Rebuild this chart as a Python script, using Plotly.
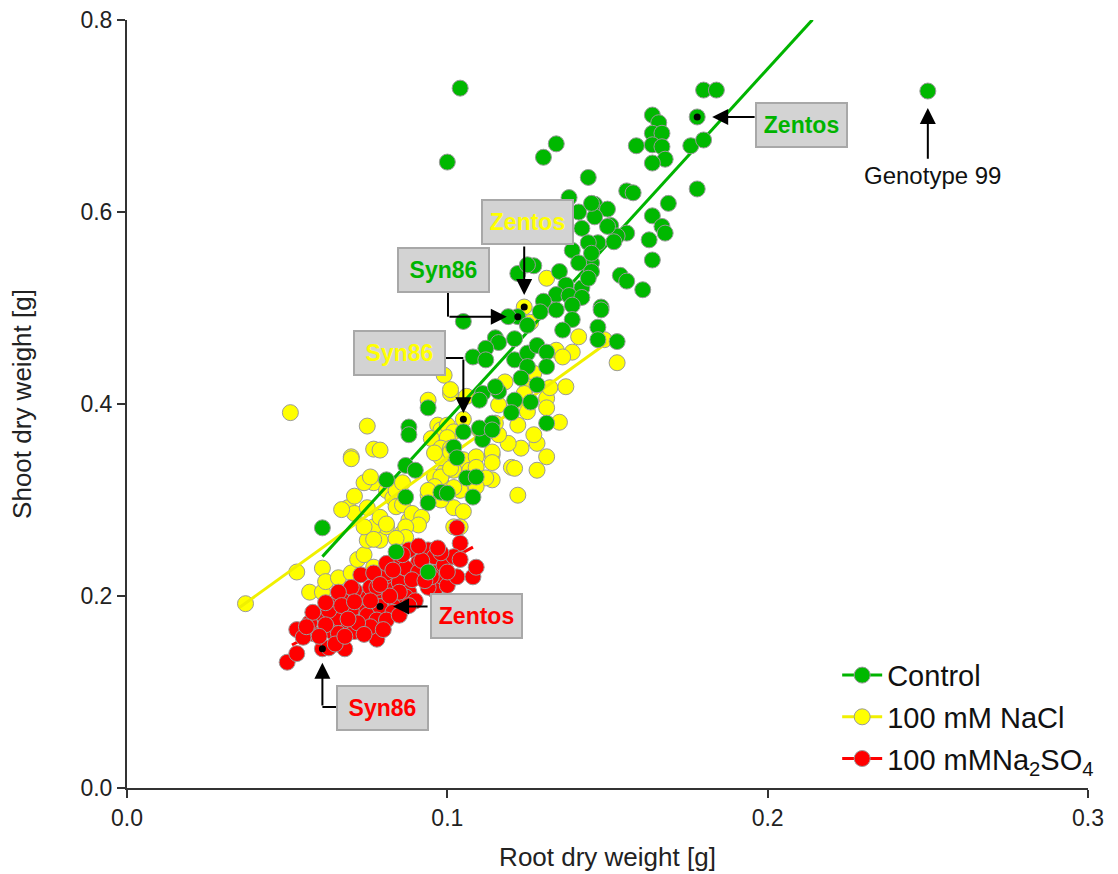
import plotly.graph_objects as go

# ---------------- data ----------------
control_x = [0.104,0.100,0.178,0.180,0.184,0.250,0.164,0.166,0.164,0.167,0.164,0.167,0.168,0.164,0.159,0.176,0.180,0.178,
             0.134,0.130,0.144,0.156,0.158,0.138,0.146,0.141,0.150,0.146,0.151,0.169,0.164,0.167,0.168,0.156,0.153,0.163,
             0.142,0.147,0.144,0.139,0.152,0.164,0.145,0.141,0.145,0.154,0.156,0.161,0.135,0.127,0.122,0.137,0.142,0.134,
             0.130,0.138,0.142,0.148,0.145,0.150,0.145,0.144,0.125,0.139,0.134,0.129,0.139,0.136,0.148,0.147,0.153,0.147,
             0.122,0.119,0.125,0.105,0.115,0.116,0.112,0.108,0.112,0.121,0.121,0.125,0.128,0.131,0.131,0.125,0.123,0.128,
             0.126,0.121,0.116,0.111,0.120,0.131,0.114,0.111,0.105,0.094,0.088,0.088,0.102,0.103,0.087,0.090,0.081,0.087,
             0.094,0.098,0.100,0.106,0.108,0.061,0.084,0.094,0.115,0.110,0.114,0.109,0.110]
control_y = [0.729,0.652,0.699,0.727,0.727,0.726,0.701,0.693,0.682,0.682,0.670,0.668,0.655,0.651,0.669,0.669,0.675,0.624,
             0.671,0.657,0.636,0.622,0.620,0.615,0.608,0.600,0.603,0.595,0.586,0.609,0.596,0.585,0.578,0.578,0.575,0.571,
             0.583,0.568,0.568,0.560,0.569,0.550,0.547,0.547,0.538,0.534,0.528,0.519,0.538,0.544,0.536,0.524,0.521,0.514,
             0.507,0.513,0.511,0.501,0.609,0.585,0.557,0.531,0.545,0.503,0.498,0.496,0.488,0.477,0.498,0.480,0.465,0.467,
             0.491,0.491,0.482,0.486,0.469,0.464,0.458,0.449,0.446,0.468,0.446,0.453,0.461,0.454,0.439,0.439,0.427,0.420,
             0.402,0.404,0.413,0.411,0.391,0.380,0.380,0.363,0.371,0.396,0.376,0.368,0.355,0.344,0.336,0.331,0.321,0.303,
             0.297,0.308,0.307,0.323,0.303,0.271,0.246,0.225,0.418,0.375,0.373,0.324,0.404]

nacl_x = [0.051,0.037,0.053,0.061,0.057,0.061,0.062,0.066,0.070,0.072,0.074,0.075,0.079,0.081,0.077,0.086,0.088,0.069,
          0.071,0.075,0.079,0.081,0.077,0.074,0.070,0.096,0.099,0.098,0.102,0.105,0.102,0.114,0.120,0.128,0.131,0.122,
          0.109,0.106,0.075,0.077,0.070,0.094,0.101,0.076,0.071,0.067,0.081,0.074,0.081,0.083,0.084,0.086,0.084,0.086,
          0.089,0.092,0.091,0.087,0.087,0.084,0.077,0.077,0.097,0.098,0.100,0.102,0.095,0.100,0.098,0.098,0.101,0.105,
          0.102,0.107,0.098,0.096,0.094,0.098,0.104,0.104,0.109,0.106,0.116,0.122,0.125,0.131,0.132,0.131,0.137,0.135,
          0.128,0.123,0.121,0.119,0.114,0.116,0.114,0.114,0.109,0.112,0.109,0.101,0.094,0.102,0.131,0.141,0.139,0.153,
          0.134,0.136,0.149,0.127,0.125,0.124,0.118,0.099,0.101,0.110,0.115,0.127,0.101,0.096,0.079,0.124,0.126,0.105]
nacl_y = [0.391,0.192,0.225,0.229,0.204,0.204,0.215,0.219,0.224,0.238,0.243,0.258,0.258,0.272,0.272,0.266,0.279,0.292,
          0.286,0.292,0.282,0.314,0.318,0.318,0.345,0.324,0.329,0.318,0.292,0.288,0.272,0.347,0.334,0.331,0.345,0.305,
          0.321,0.313,0.377,0.353,0.343,0.404,0.411,0.324,0.304,0.290,0.275,0.272,0.310,0.302,0.310,0.318,0.293,0.295,
          0.286,0.282,0.274,0.272,0.261,0.260,0.259,0.230,0.378,0.373,0.378,0.371,0.364,0.365,0.354,0.344,0.354,0.342,
          0.331,0.331,0.324,0.314,0.305,0.300,0.272,0.310,0.345,0.408,0.399,0.378,0.392,0.406,0.417,0.396,0.418,0.381,
          0.359,0.354,0.333,0.359,0.350,0.368,0.339,0.321,0.334,0.323,0.314,0.333,0.310,0.313,0.531,0.470,0.454,0.443,
          0.456,0.449,0.467,0.432,0.418,0.411,0.423,0.430,0.415,0.373,0.380,0.368,0.350,0.349,0.352,0.501,0.485,0.384]

na2so4_x = [0.050,0.053,0.053,0.058,0.061,0.063,0.068,0.078,0.061,0.063,0.064,0.066,0.069,0.071,0.065,0.069,0.072,0.073,
            0.075,0.077,0.078,0.075,0.079,0.081,0.079,0.073,0.078,0.081,0.083,0.085,0.084,0.088,0.091,0.094,0.096,0.087,
            0.091,0.096,0.099,0.098,0.096,0.100,0.088,0.103,0.104,0.103,0.108,0.109,0.102,0.084,0.087,0.083,0.063,0.066,
            0.071,0.076,0.078,0.081,0.085,0.078,0.081,0.076,0.094,0.098,0.104,0.081,0.077,0.070,0.066,0.062,0.070,0.083,
            0.089,0.092,0.086,0.067,0.057,0.072,0.080,0.085,0.090,0.095,0.100,0.097,0.091,0.076,0.069,0.074,0.062,0.058,
            0.065,0.055,0.056,0.060,0.068,0.082,0.093,0.088,0.079,0.071]
na2so4_y = [0.131,0.140,0.165,0.161,0.145,0.146,0.145,0.155,0.181,0.172,0.163,0.177,0.165,0.163,0.193,0.198,0.203,0.189,
            0.198,0.172,0.180,0.180,0.199,0.191,0.189,0.222,0.220,0.215,0.206,0.214,0.238,0.248,0.235,0.248,0.241,0.229,
            0.225,0.224,0.232,0.214,0.206,0.211,0.204,0.271,0.255,0.220,0.220,0.230,0.241,0.193,0.199,0.183,0.185,0.161,
            0.206,0.209,0.209,0.224,0.204,0.175,0.175,0.168,0.209,0.245,0.238,0.234,0.224,0.209,0.204,0.193,0.185,0.227,
            0.217,0.237,0.243,0.190,0.172,0.172,0.165,0.180,0.195,0.220,0.225,0.250,0.252,0.195,0.176,0.160,0.170,0.183,
            0.150,0.157,0.168,0.158,0.158,0.200,0.216,0.190,0.212,0.194]

# regression fits (slope, intercept, x-range)
fit_control = (3.656, 0.018, [0.061, 0.214])
fit_nacl = (2.403, 0.1037, [0.035, 0.150])
fit_na2so4 = (1.805, 0.056, [0.0515, 0.108])

# highlighted genotypes
hl_x = [0.178, 0.122, 0.124, 0.105, 0.079, 0.061]
hl_y = [0.699, 0.491, 0.501, 0.384, 0.189, 0.145]

GREEN = '#00b800'
YELLOW = '#ffff00'
RED = '#ff0000'
EDGE = '#9a9a9a'
FONT = 'Arial, Liberation Sans, sans-serif'

def fit_line(f):
    s, b, xr = f
    return xr, [s * v + b for v in xr]

fig = go.Figure()
mk = lambda c: dict(size=16, color=c, line=dict(color=EDGE, width=1))

fig.add_trace(go.Scatter(x=nacl_x, y=nacl_y, mode='markers', marker=mk(YELLOW), showlegend=False))
lx, ly = fit_line(fit_nacl)
fig.add_trace(go.Scatter(x=lx, y=ly, mode='lines', line=dict(color='#f0f000', width=3), showlegend=False))
lx, ly = fit_line(fit_control)
fig.add_trace(go.Scatter(x=lx, y=ly, mode='lines', line=dict(color='#00b400', width=3), showlegend=False))
lx, ly = fit_line(fit_na2so4)
fig.add_trace(go.Scatter(x=lx, y=ly, mode='lines', line=dict(color=RED, width=3), showlegend=False))
fig.add_trace(go.Scatter(x=na2so4_x, y=na2so4_y, mode='markers', marker=mk(RED), showlegend=False))
fig.add_trace(go.Scatter(x=control_x, y=control_y, mode='markers', marker=mk(GREEN), showlegend=False))
fig.add_trace(go.Scatter(x=hl_x, y=hl_y, mode='markers', marker=dict(size=7, color='black'), showlegend=False))

# legend entries
for i, (name, c, lc) in enumerate([('Control', GREEN, '#00b400'), ('100 mM NaCl', YELLOW, '#f0f000'),
                                   ('100 mMNa<sub>2</sub>SO<sub>4</sub>', RED, RED)]):
    fig.add_trace(go.Scatter(x=[None], y=[None], mode='lines+markers', name=name, legendgroup='g%d' % i,
                             line=dict(color=lc, width=3), marker=mk(c)))

boxes = [  # text, color, x, y
    ('Zentos', '#00b400', 0.2107, 0.6906),
    ('Zentos', '#ffff00', 0.1249, 0.5896),
    ('Syn86', '#00b400', 0.0987, 0.5396),
    ('Syn86', '#ffff00', 0.0852, 0.4531),
    ('Zentos', '#ff0000', 0.1090, 0.1790),
    ('Syn86', '#ff0000', 0.0799, 0.0833),
]
for t, c, x, y in boxes:
    fig.add_annotation(x=x, y=y, text='<b>%s</b>' % t, showarrow=False,
                       font=dict(family=FONT, size=23, color=c),
                       bgcolor='#d3d3d3', bordercolor='#a8a8a8', borderwidth=2,
                       width=89, height=42, borderpad=0)

fig.add_annotation(x=0.2513, y=0.6385, text='Genotype 99', showarrow=False,
                   font=dict(family=FONT, size=24, color='#111'))

# arrows: (tip x, tip y, tail x, tail y, standoff)
arrows = [
    (0.178, 0.699, 0.1964, 0.699, 15),
    (0.250, 0.726, 0.250, 0.654, 17),
    (0.124, 0.501, 0.124, 0.5656, 12),
    (0.122, 0.491, 0.1002, 0.491, 11),
    (0.105, 0.384, 0.105, 0.4479, 6),
    (0.079, 0.189, 0.0943, 0.189, 13),
    (0.061, 0.145, 0.061, 0.0844, 14),
]
for tx, ty, ax, ay, so in arrows:
    fig.add_annotation(x=tx, y=ty, ax=ax, ay=ay, axref='x', ayref='y', text='',
                       showarrow=True, arrowhead=2, arrowsize=1.6, arrowwidth=2,
                       arrowcolor='black', standoff=so)

# elbow connectors
elbows = [
    (0.1002, 0.5167, 0.1002, 0.491),
    (0.0987, 0.4479, 0.105, 0.4479),
    (0.0665, 0.0844, 0.061, 0.0844),
]
for x0, y0, x1, y1 in elbows:
    fig.add_shape(type='line', xref='x', yref='y', x0=x0, y0=y0, x1=x1, y1=y1,
                  line=dict(color='black', width=2))

fig.update_layout(
    width=1118, height=874,
    margin=dict(l=127, r=30, t=20, b=86),
    paper_bgcolor='white', plot_bgcolor='white',
    font=dict(family=FONT, color='#111'),
    legend=dict(x=0.739, y=0.18, xanchor='left', yanchor='top',
                font=dict(family=FONT, size=29, color='#111'),
                bgcolor='rgba(0,0,0,0)', itemwidth=40, tracegroupgap=1),
)
fig.update_xaxes(range=[0, 0.3], tickvals=[0, 0.1, 0.2, 0.3], ticktext=['0.0', '0.1', '0.2', '0.3'],
                 showline=True, linecolor='#333', linewidth=2, ticks='outside', ticklen=8,
                 tickwidth=2, tickcolor='#333', showgrid=False, zeroline=False, automargin=False,
                 tickfont=dict(size=23, color='#222'),
                 title=dict(text='Root dry weight [g]', font=dict(size=26, color='#222'), standoff=18))
fig.update_yaxes(range=[0, 0.8], tickvals=[0, 0.2, 0.4, 0.6, 0.8], ticktext=['0.0', '0.2', '0.4', '0.6', '0.8'],
                 showline=True, linecolor='#333', linewidth=2, ticks='outside', ticklen=8,
                 tickwidth=2, tickcolor='#333', showgrid=False, zeroline=False, automargin=False,
                 tickfont=dict(size=23, color='#222'),
                 title=dict(text='Shoot dry weight [g]', font=dict(size=26, color='#222'), standoff=41))

fig.write_html('out.html')
